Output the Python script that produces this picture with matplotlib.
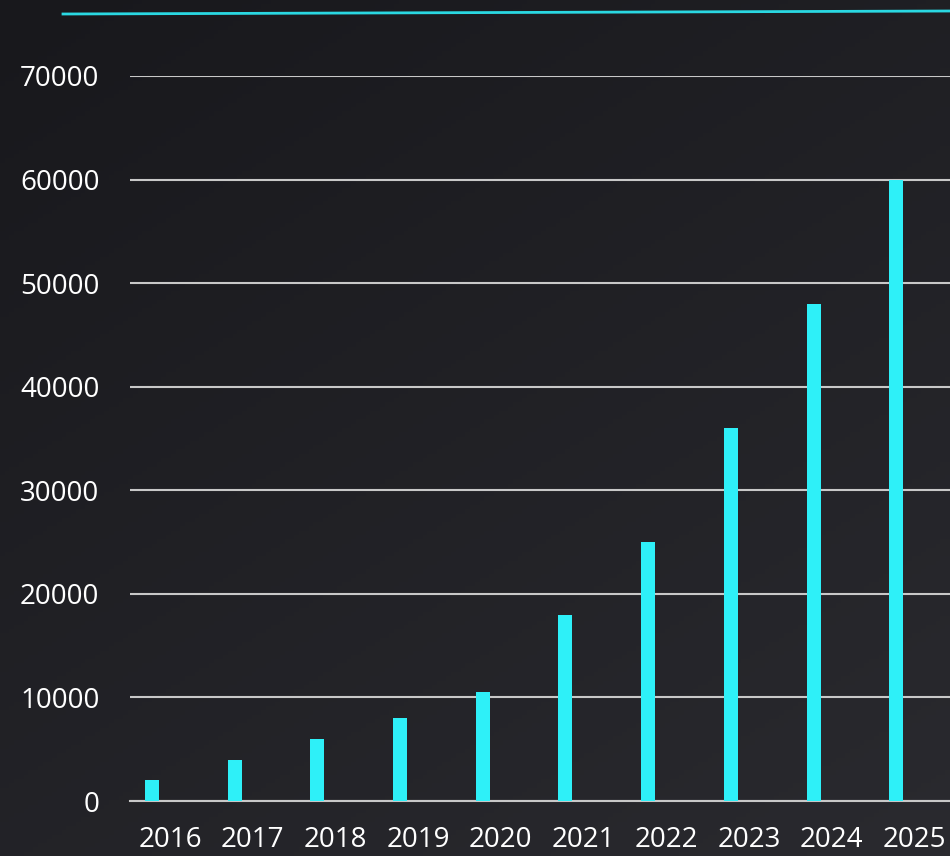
import matplotlib
matplotlib.use('Agg')
import matplotlib.pyplot as plt
import matplotlib.transforms as mtransforms
import numpy as np

plt.rcParams['font.family'] = ['Open Sans', 'DejaVu Sans']

# Data
years = ['2016', '2017', '2018', '2019', '2020', '2021', '2022', '2023', '2024', '2025']
values = [2000, 4000, 6000, 8000, 10500, 18000, 25000, 36000, 48000, 60000]
y_ticks = [0, 10000, 20000, 30000, 40000, 50000, 60000, 70000]

bar_color = '#2ef0f8'
grid_color = '#c8c8c8'

fig = plt.figure(figsize=(9.5, 8.56), dpi=100)

# Dark gradient background
bg = fig.add_axes([0, 0, 1, 1], zorder=-10)
gx, gy = np.meshgrid(np.linspace(0, 1, 200), np.linspace(0, 1, 200))
grad = 0.6 * gy + 0.4 * gx
bg.imshow(grad, cmap=matplotlib.colors.LinearSegmentedColormap.from_list(
    'bgc', ['#18181c', '#2a2a2f']), aspect='auto', origin='upper',
    extent=[0, 1, 0, 1])
bg.set_axis_off()

# Cyan rule at the top
fig.add_artist(plt.Line2D([63 / 950, 1.0], [1 - 14 / 856, 1 - 11 / 856],
                          transform=fig.transFigure, color='#2ad8e2', linewidth=2))

ax = fig.add_axes([130 / 950, 55 / 856, 1 - 130 / 950, (801 - 76) / 856])
ax.patch.set_alpha(0)

x = np.arange(len(years))
ax.bar(x, values, width=0.17, color=bar_color, zorder=3)

ax.set_xlim(-0.266, 9.65)
ax.set_ylim(0, 70000)
ax.set_yticks(y_ticks)
ax.set_yticklabels([str(v) for v in y_ticks])
ax.set_xticks(x)
ax.set_xticklabels(years)

ax.yaxis.grid(True, color=grid_color, linewidth=1.5, zorder=0)
ax.set_axisbelow(True)
for s in ['top', 'right', 'left']:
    ax.spines[s].set_visible(False)
ax.spines['bottom'].set_color(grid_color)
ax.spines['bottom'].set_linewidth(1.5)

ax.tick_params(axis='y', length=0, pad=22, labelsize=20, labelcolor='white')
ax.tick_params(axis='x', length=0, pad=18, labelsize=20, labelcolor='white')

# category labels sit a little right of the bars
shift = mtransforms.ScaledTranslation(0.18, 0, fig.dpi_scale_trans)
for lbl in ax.get_xticklabels():
    lbl.set_transform(lbl.get_transform() + shift)

plt.savefig('out.png', dpi=100)
